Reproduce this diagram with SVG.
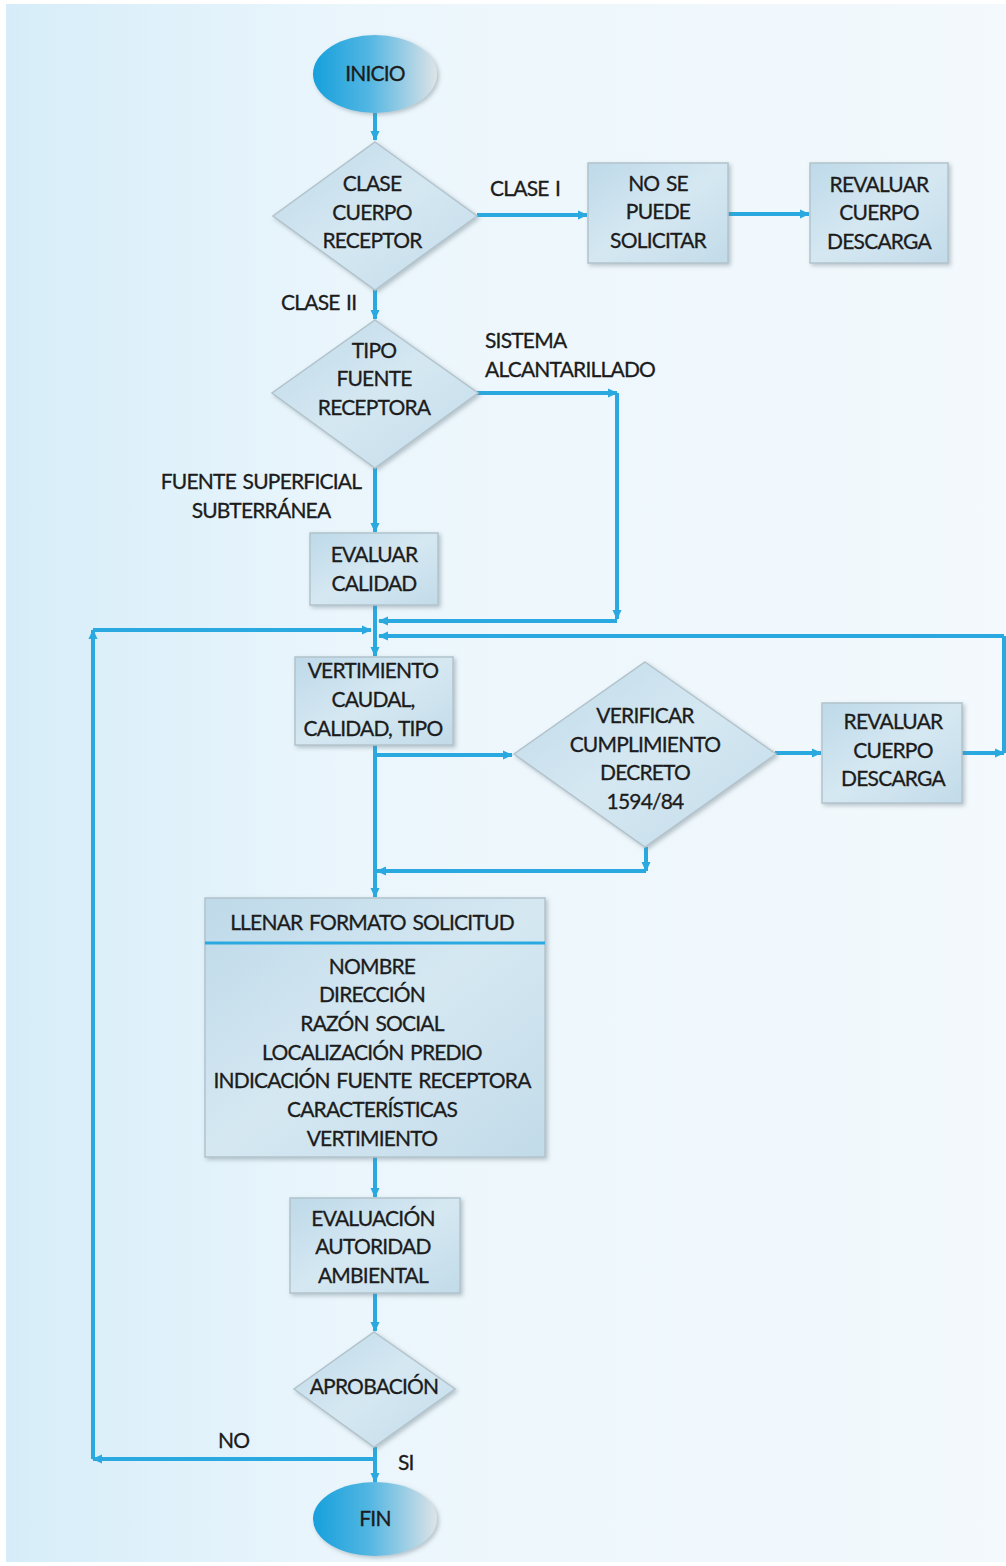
<svg xmlns="http://www.w3.org/2000/svg" width="1006" height="1566" viewBox="0 0 1006 1566">
  <defs>
    <linearGradient id="bg" x1="0" y1="0" x2="1" y2="0">
      <stop offset="0" stop-color="#d6edf9"/>
      <stop offset="0.35" stop-color="#ebf6fc"/>
      <stop offset="1" stop-color="#f3f9fd"/>
    </linearGradient>
    <linearGradient id="boxFill" x1="0" y1="0" x2="1" y2="1">
      <stop offset="0" stop-color="#bed9e9"/>
      <stop offset="0.5" stop-color="#d5e8f2"/>
      <stop offset="1" stop-color="#c2dbe9"/>
    </linearGradient>
    <linearGradient id="termFill" x1="0" y1="0" x2="1" y2="0">
      <stop offset="0" stop-color="#17a0dc"/>
      <stop offset="0.45" stop-color="#52b6e2"/>
      <stop offset="1" stop-color="#dde3e7"/>
    </linearGradient>
    <filter id="shadow" x="-10%" y="-10%" width="125%" height="125%">
      <feDropShadow dx="2" dy="2" stdDeviation="2" flood-color="#6f808a" flood-opacity="0.45"/>
    </filter>
    <marker id="arrow" viewBox="0 0 10 10" refX="9" refY="5" markerWidth="10" markerHeight="10" markerUnits="userSpaceOnUse" orient="auto">
      <path d="M0,0.5 L10,5 L0,9.5 Z" fill="#2aa9e0"/>
    </marker>
  </defs>
  <style>
    .box { fill: url(#boxFill); stroke: #b3c3cc; stroke-width: 1.5; filter: url(#shadow); }
    .term { fill: url(#termFill); filter: url(#shadow); }
    .conn { fill: none; stroke: #2aa9e0; stroke-width: 4; }
    .arr { marker-end: url(#arrow); }
    text { font-family: Lato, "Liberation Sans", sans-serif; font-size: 21px; letter-spacing: -0.8px; word-spacing: 2px; fill: #1c1c1c; stroke: #1c1c1c; stroke-width: 0.3; }
    .c { text-anchor: middle; }
  </style>

  <!-- page background -->
  <rect x="0" y="0" width="1006" height="1566" fill="#ffffff"/>
  <rect x="6" y="4" width="1000" height="1558" fill="url(#bg)"/>

  <!-- connectors -->
  <g id="connectors">
    <line class="conn arr" x1="375" y1="113" x2="375" y2="140"/>
    <line class="conn arr" x1="477" y1="215" x2="587" y2="215"/>
    <line class="conn arr" x1="728" y1="214" x2="809" y2="214"/>
    <line class="conn arr" x1="375" y1="290" x2="375" y2="319"/>
    <line class="conn arr" x1="477" y1="393" x2="617" y2="393"/>
    <line class="conn arr" x1="617" y1="393" x2="617" y2="619"/>
    <line class="conn arr" x1="617" y1="621" x2="379" y2="621"/>
    <line class="conn arr" x1="375" y1="468" x2="375" y2="532"/>
    <line class="conn arr" x1="375" y1="605" x2="375" y2="656"/>
    <line class="conn arr" x1="375" y1="1459" x2="93" y2="1459"/>
    <line class="conn arr" x1="93" y1="1459" x2="93" y2="630"/>
    <line class="conn arr" x1="93" y1="630" x2="371" y2="630"/>
    <line class="conn arr" x1="962" y1="753" x2="1004" y2="753"/>
    <line class="conn" x1="1004" y1="753" x2="1004" y2="636"/>
    <line class="conn arr" x1="1004" y1="636" x2="379" y2="636"/>
    <line class="conn arr" x1="375" y1="745" x2="375" y2="897"/>
    <line class="conn arr" x1="375" y1="755" x2="512" y2="755"/>
    <line class="conn arr" x1="775" y1="753" x2="821" y2="753"/>
    <line class="conn arr" x1="646" y1="847" x2="646" y2="871"/>
    <line class="conn arr" x1="646" y1="871" x2="377" y2="871"/>
    <line class="conn arr" x1="375" y1="1157" x2="375" y2="1197"/>
    <line class="conn arr" x1="375" y1="1293" x2="375" y2="1331"/>
    <line class="conn arr" x1="375" y1="1447" x2="375" y2="1482"/>
  </g>

  <!-- connector labels -->
  <g id="labels">
    <text x="490" y="196">CLASE I</text>
    <text x="281" y="310">CLASE II</text>
    <text x="485" y="348">SISTEMA</text>
    <text x="485" y="377">ALCANTARILLADO</text>
    <text class="c" x="261" y="489">FUENTE SUPERFICIAL</text>
    <text class="c" x="261" y="518">SUBTERRÁNEA</text>
    <text x="218" y="1448">NO</text>
    <text x="398" y="1470">SI</text>
  </g>

  <g id="inicio">
    <ellipse class="term" cx="375" cy="74" rx="62" ry="39"/>
    <text class="c" x="375" y="81">INICIO</text>
  </g>

  <g id="clase-cuerpo">
    <polygon class="box" points="375,142 477,216 375,290 273,216"/>
    <text class="c" x="372" y="191">CLASE</text>
    <text class="c" x="372" y="220">CUERPO</text>
    <text class="c" x="372" y="248">RECEPTOR</text>
  </g>

  <g id="no-se-puede">
    <rect class="box" x="588" y="163" width="140" height="100"/>
    <text class="c" x="658" y="191">NO SE</text>
    <text class="c" x="658" y="219">PUEDE</text>
    <text class="c" x="658" y="248">SOLICITAR</text>
  </g>

  <g id="revaluar-1">
    <rect class="box" x="810" y="163" width="138" height="100"/>
    <text class="c" x="879" y="192">REVALUAR</text>
    <text class="c" x="879" y="220">CUERPO</text>
    <text class="c" x="879" y="249">DESCARGA</text>
  </g>

  <g id="tipo-fuente">
    <polygon class="box" points="375,320 478,393 375,468 272,393"/>
    <text class="c" x="374" y="358">TIPO</text>
    <text class="c" x="374" y="386">FUENTE</text>
    <text class="c" x="374" y="415">RECEPTORA</text>
  </g>

  <g id="evaluar-calidad">
    <rect class="box" x="310" y="533" width="128" height="72"/>
    <text class="c" x="374" y="562">EVALUAR</text>
    <text class="c" x="374" y="591">CALIDAD</text>
  </g>

  <g id="vertimiento">
    <rect class="box" x="295" y="657" width="158" height="88"/>
    <text class="c" x="373" y="678">VERTIMIENTO</text>
    <text class="c" x="373" y="707">CAUDAL,</text>
    <text class="c" x="373" y="736">CALIDAD, TIPO</text>
  </g>

  <g id="verificar">
    <polygon class="box" points="645,662 776,754 645,847 514,754"/>
    <text class="c" x="645" y="723">VERIFICAR</text>
    <text class="c" x="645" y="752">CUMPLIMIENTO</text>
    <text class="c" x="645" y="780">DECRETO</text>
    <text class="c" x="645" y="809">1594/84</text>
  </g>

  <g id="revaluar-2">
    <rect class="box" x="822" y="703" width="140" height="100"/>
    <text class="c" x="893" y="729">REVALUAR</text>
    <text class="c" x="893" y="758">CUERPO</text>
    <text class="c" x="893" y="786">DESCARGA</text>
  </g>

  <g id="formato-solicitud">
    <rect class="box" x="205" y="898" width="340" height="259"/>
    <line x1="205" y1="943" x2="545" y2="943" stroke="#2aa9e0" stroke-width="3"/>
    <text class="c" x="372" y="930">LLENAR FORMATO SOLICITUD</text>
    <text class="c" x="372" y="974">NOMBRE</text>
    <text class="c" x="372" y="1002">DIRECCIÓN</text>
    <text class="c" x="372" y="1031">RAZÓN SOCIAL</text>
    <text class="c" x="372" y="1060">LOCALIZACIÓN PREDIO</text>
    <text class="c" x="372" y="1088">INDICACIÓN FUENTE RECEPTORA</text>
    <text class="c" x="372" y="1117">CARACTERÍSTICAS</text>
    <text class="c" x="372" y="1146">VERTIMIENTO</text>
  </g>

  <g id="evaluacion-autoridad">
    <rect class="box" x="290" y="1198" width="170" height="95"/>
    <text class="c" x="373" y="1226">EVALUACIÓN</text>
    <text class="c" x="373" y="1254">AUTORIDAD</text>
    <text class="c" x="373" y="1283">AMBIENTAL</text>
  </g>

  <g id="aprobacion">
    <polygon class="box" points="374,1332 455,1389 374,1447 294,1389"/>
    <text class="c" x="374" y="1394">APROBACIÓN</text>
  </g>

  <g id="fin">
    <ellipse class="term" cx="375" cy="1519" rx="62" ry="37"/>
    <text class="c" x="375" y="1526">FIN</text>
  </g>
</svg>
